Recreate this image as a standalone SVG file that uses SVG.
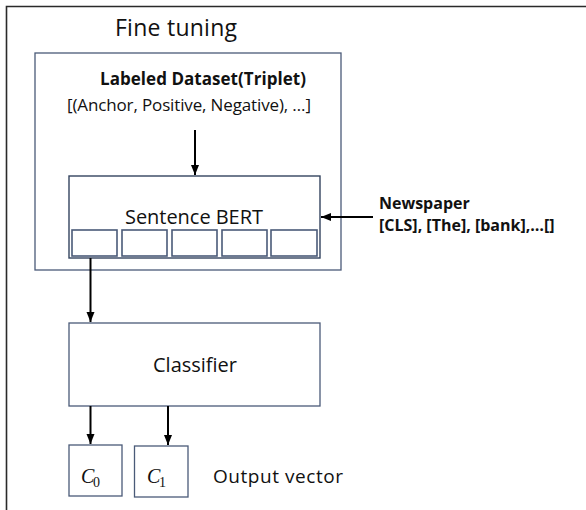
<svg xmlns="http://www.w3.org/2000/svg" width="586" height="510" viewBox="0 0 586 510">
  <style>
    .t { font-family: "Open Sans", "Noto Sans", sans-serif; fill: #111; }
    .b { font-weight: bold; }
    .box { fill: #fff; stroke: #4a5a78; stroke-width: 1.3; }
    .dark { fill: #fff; stroke: #34445f; stroke-width: 1.4; }
    .cell { fill: #fff; stroke: #4a5a78; stroke-width: 1.6; }
    .math { font-family: "Liberation Serif", "DejaVu Serif", serif; font-style: italic; fill: #111; }
    .sub { font-family: "Liberation Serif", "DejaVu Serif", serif; fill: #111; }
    .arr { stroke: #000; stroke-width: 2; fill: none; marker-end: url(#ah); }
  </style>
  <defs>
    <marker id="ah" markerUnits="userSpaceOnUse" markerWidth="10" markerHeight="10" viewBox="0 0 10 10" refX="10" refY="5" orient="auto">
      <path d="M0,1 L10,5 L0,9 Z" fill="#000"/>
    </marker>
  </defs>
  <rect x="0" y="0" width="586" height="510" fill="#fff"/>
  <g id="frame">
    <path d="M6.5,510 V6.5 H586" fill="none" stroke="#2a2a2a" stroke-width="1.6"/>
    <text class="t" x="115" y="36" font-size="23" textLength="122">Fine tuning</text>
  </g>
  <g id="dataset">
    <rect class="box" x="35" y="53" width="306" height="217"/>
    <text class="t b" x="100" y="85" font-size="17" textLength="206">Labeled Dataset(Triplet)</text>
    <text class="t" x="67" y="111" font-size="17" textLength="244">[(Anchor, Positive, Negative), …]</text>
  </g>
  <g id="sbert">
    <rect class="dark" x="69" y="176" width="251" height="82"/>
    <text class="t" x="125" y="224" font-size="20" textLength="138">Sentence BERT</text>
    <rect class="cell" x="72" y="230" width="45" height="26"/>
    <rect class="cell" x="122" y="230" width="45" height="26"/>
    <rect class="cell" x="172" y="230" width="45" height="26"/>
    <rect class="cell" x="222" y="230" width="45" height="26"/>
    <rect class="cell" x="271" y="230" width="46" height="26"/>
  </g>
  <g id="newspaper">
    <text class="t b" x="379" y="209" font-size="16">Newspaper</text>
    <text class="t b" x="379" y="231" font-size="16">[CLS], [The], [bank],…[]</text>
  </g>
  <g id="classifier">
    <rect class="box" x="69" y="323" width="251" height="83"/>
    <text class="t" x="153" y="372" font-size="20" textLength="84">Classifier</text>
  </g>
  <g id="c0">
    <rect class="box" x="69" y="445" width="53" height="51"/>
    <text class="math" x="81" y="483" font-size="20">C</text>
    <text class="sub" x="93" y="487" font-size="14">0</text>
  </g>
  <g id="c1">
    <rect class="box" x="134.5" y="446" width="53.5" height="51"/>
    <text class="math" x="147" y="483" font-size="20">C</text>
    <text class="sub" x="159" y="487" font-size="14">1</text>
  </g>
  <g id="output-label">
    <text class="t" x="213" y="483" font-size="19" textLength="130">Output vector</text>
  </g>
  <g id="connectors">
    <line class="arr" x1="195" y1="130" x2="195" y2="175"/>
    <line class="arr" x1="373" y1="217" x2="321" y2="217"/>
    <line class="arr" x1="90.5" y1="258" x2="90.5" y2="322"/>
    <line class="arr" x1="90.5" y1="406" x2="90.5" y2="444"/>
    <line class="arr" x1="168" y1="406" x2="168" y2="445"/>
  </g>
</svg>
